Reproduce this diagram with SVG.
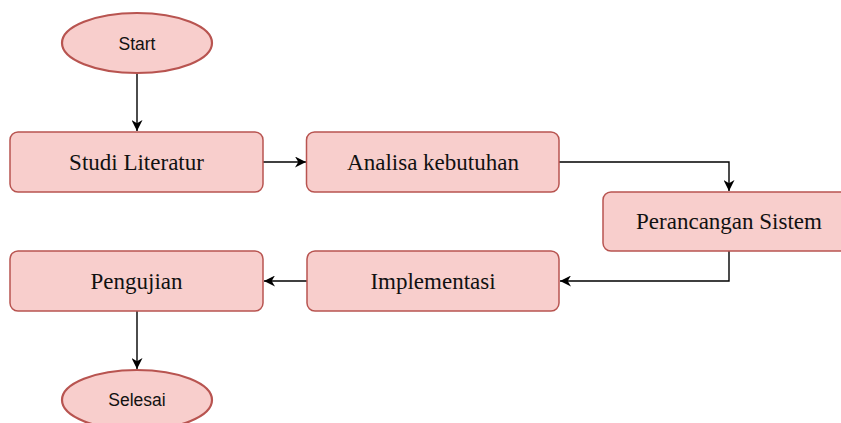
<svg xmlns="http://www.w3.org/2000/svg" width="841" height="423" viewBox="0 0 841 423">
  <style>
    .box { fill: #f8cecc; stroke: #b85450; stroke-width: 1.5; }
    .term { fill: #f8cecc; stroke: #b85450; stroke-width: 2.2; }
    .serif { font-family: "Liberation Serif", "Times New Roman", serif; font-size: 23px; fill: #111111; text-anchor: middle; }
    .sans { font-family: "Liberation Sans", Arial, sans-serif; font-size: 17.5px; fill: #111111; text-anchor: middle; }
    .edge { fill: none; stroke: #000; stroke-width: 1.4; }
  </style>
  <defs>
    <marker id="arrow" viewBox="0 0 10 10" markerUnits="userSpaceOnUse" markerWidth="11" markerHeight="11" refX="10" refY="5" orient="auto">
      <path d="M0,0 L10,5 L0,10 L3,5 z" fill="#000"/>
    </marker>
  </defs>
  <rect width="841" height="423" fill="#ffffff"/>

  <g id="connectors">
    <path class="edge" d="M137,73 L137,131" marker-end="url(#arrow)"/>
    <path class="edge" d="M263,162 L306,162" marker-end="url(#arrow)"/>
    <path class="edge" d="M559,162 L729,162 L729,191" marker-end="url(#arrow)"/>
    <path class="edge" d="M729,251 L729,281 L560,281" marker-end="url(#arrow)"/>
    <path class="edge" d="M307,281 L264,281" marker-end="url(#arrow)"/>
    <path class="edge" d="M137,311 L137,369" marker-end="url(#arrow)"/>
  </g>

  <g id="start">
    <ellipse class="term" cx="137" cy="43" rx="75" ry="30"/>
    <text class="sans" x="137" y="49.5">Start</text>
  </g>
  <g id="studi-literatur">
    <rect class="box" x="10" y="132" width="253" height="60" rx="8"/>
    <text class="serif" x="136.5" y="169.5">Studi Literatur</text>
  </g>
  <g id="analisa-kebutuhan">
    <rect class="box" x="306.5" y="132" width="252.5" height="60" rx="8"/>
    <text class="serif" x="433" y="169.5">Analisa kebutuhan</text>
  </g>
  <g id="perancangan-sistem">
    <rect class="box" x="603" y="192" width="252" height="59" rx="8"/>
    <text class="serif" x="729" y="229">Perancangan Sistem</text>
  </g>
  <g id="implementasi">
    <rect class="box" x="307" y="251" width="252" height="60" rx="8"/>
    <text class="serif" x="433" y="288.5">Implementasi</text>
  </g>
  <g id="pengujian">
    <rect class="box" x="10" y="251" width="253" height="60" rx="8"/>
    <text class="serif" x="136.5" y="288.5">Pengujian</text>
  </g>
  <g id="selesai">
    <ellipse class="term" cx="137" cy="400" rx="75" ry="30"/>
    <text class="sans" x="137" y="406">Selesai</text>
  </g>
</svg>
